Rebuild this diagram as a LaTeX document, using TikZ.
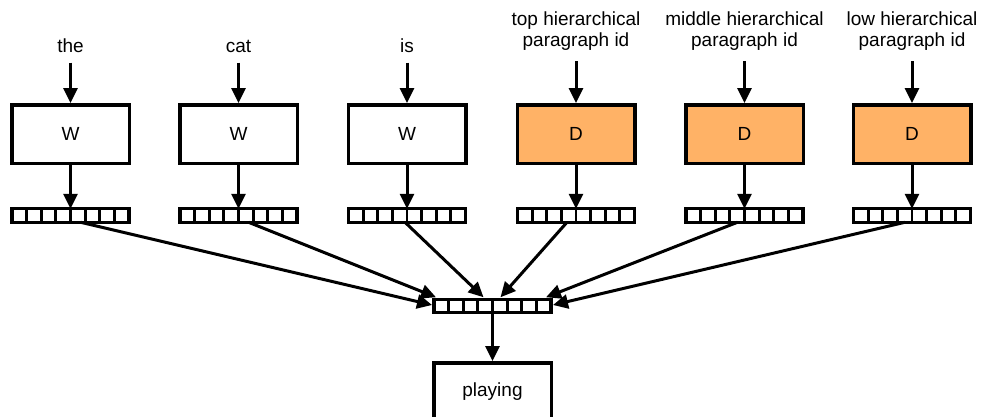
\documentclass[tikz,border=0pt]{standalone}
\usepackage{fontspec}
\setmainfont{Liberation Sans}
\usetikzlibrary{arrows.meta,calc}
\definecolor{dorange}{RGB}{255,178,102}
\tikzset{
  box/.style={draw, line width=3.5pt, minimum width=117.5pt, minimum height=58.5pt, inner sep=0pt, fill=white, font=\fontsize{19}{21}\selectfont},
  dbox/.style={box, fill=dorange},
  vec/.style={draw, line width=3.2pt, minimum width=117pt, minimum height=13.5pt, inner sep=0pt, outer sep=0pt, fill=white},
  lbl/.style={anchor=south, inner sep=0pt, align=center, font=\fontsize{19}{21}\selectfont},
  arr/.style={line width=3pt, -{Triangle[length=15pt,width=14pt]}},
  inarr/.style={arr, shorten <=10pt},
}
\begin{document}
\begin{tikzpicture}[x=1pt,y=-1pt]
\useasboundingbox (0,0) rectangle (981,416);
% labels
\node[lbl] (l1) at (70.5,52.5) {the};
\node[lbl] (l2) at (238.5,52.5) {cat};
\node[lbl] (l3) at (407,52.5) {is};
\node[lbl] (l4) at (576,51) {top hierarchical\\paragraph id};
\node[lbl] (l5) at (744.5,51) {middle hierarchical\\paragraph id};
\node[lbl] (l6) at (912,51) {low hierarchical\\paragraph id};
% boxes
\node[box] (b1) at (70.5,134) {W};
\node[box] (b2) at (238.5,134) {W};
\node[box] (b3) at (407,134) {W};
\node[dbox] (b4) at (576,134) {D};
\node[dbox] (b5) at (744.5,134) {D};
\node[dbox] (b6) at (912,134) {D};
% vectors
\node[vec] (v1) at (70.5,215.5) {};
\node[vec] (v2) at (238.5,215.5) {};
\node[vec] (v3) at (407,215.5) {};
\node[vec] (v4) at (576,215.5) {};
\node[vec] (v5) at (744.5,215.5) {};
\node[vec] (v6) at (912,215.5) {};
\node[vec] (vb) at (492.5,306) {};
\foreach \v in {v1,v2,v3,v4,v5,v6,vb}{
  \foreach \i in {1,...,7}{
    \draw[line width=2.8pt] ($(\v.north west)!\i/8!(\v.north east)$) -- ($(\v.south west)!\i/8!(\v.south east)$);
  }
}
% output box
\node[box] (out) at (492.5,392) {playing};
% input arrows
\foreach \i in {1,...,6}{
  \draw[inarr] (l\i.south) -- (b\i.north);
  \draw[arr] (b\i.south) -- (v\i.north);
}
% to bottom vector
\draw[arr] ([xshift=10pt]v1.south) -- ([xshift=-2pt,yshift=1pt]vb.west);
\draw[arr] ([xshift=10pt]v2.south) -- ([xshift=2pt,yshift=2pt]vb.north west);
\draw[arr] ([xshift=-2pt]v3.south) -- ([xshift=-9pt,yshift=2pt]vb.north);
\draw[arr] ([xshift=-9pt]v4.south) -- ([xshift=8pt,yshift=2pt]vb.north);
\draw[arr] ([xshift=-7pt]v5.south) -- ([xshift=-5pt,yshift=2pt]vb.north east);
\draw[arr] ([xshift=-7pt]v6.south) -- ([xshift=2pt,yshift=1pt]vb.east);
\draw[arr] (vb.south) -- (out.north);
\end{tikzpicture}
\end{document}
